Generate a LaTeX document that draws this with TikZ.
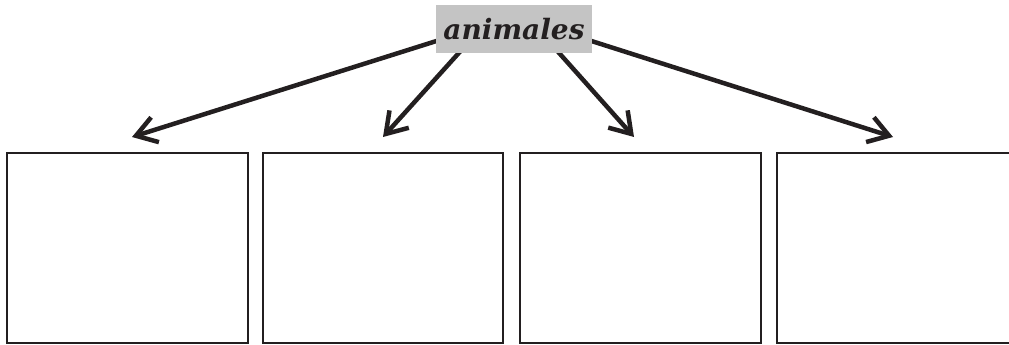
\documentclass[tikz,border=0pt]{standalone}
\usepackage{fontspec}
\newfontfamily\labelfont{DejaVu Serif}
\usetikzlibrary{arrows.meta}
\definecolor{ink}{HTML}{231F20}
\definecolor{labgray}{RGB}{196,196,196}
\tikzset{
  emptybox/.style={draw=ink, line width=2.2pt, minimum width=241pt, minimum height=190pt, inner sep=0pt},
  titlebox/.style={fill=labgray, minimum width=156pt, minimum height=48pt, inner sep=0pt, text=ink,
    font=\labelfont\fontsize{28}{30}\selectfont\bfseries\itshape},
  linkarrow/.style={draw=ink, line width=4.5pt, -{Straight Barb[length=20pt,width=26pt,line width=4.5pt]}}
}
\begin{document}
\begin{tikzpicture}[x=1pt,y=-1pt]
\useasboundingbox (0,0) rectangle (1009,345);
\node[emptybox] (b1) at (127.5,248) {};
\node[emptybox, minimum width=240pt] (b2) at (383,248) {};
\node[emptybox] (b3) at (640.5,248) {};
\node[emptybox] (b4) at (897.5,248) {};
\coordinate (s1) at (446,38);
\coordinate (s2) at (466,45);
\coordinate (s3) at (552,45);
\coordinate (s4) at (582,38);
\coordinate (t1) at (132,137);
\coordinate (t2) at (383,137);
\coordinate (t3) at (634,137);
\coordinate (t4) at (893,137);
\draw[linkarrow] (s1) -- (t1);
\draw[linkarrow] (s2) -- (t2);
\draw[linkarrow] (s3) -- (t3);
\draw[linkarrow] (s4) -- (t4);
\node[titlebox] (lab) at (514,29) {animales};
\end{tikzpicture}
\end{document}
